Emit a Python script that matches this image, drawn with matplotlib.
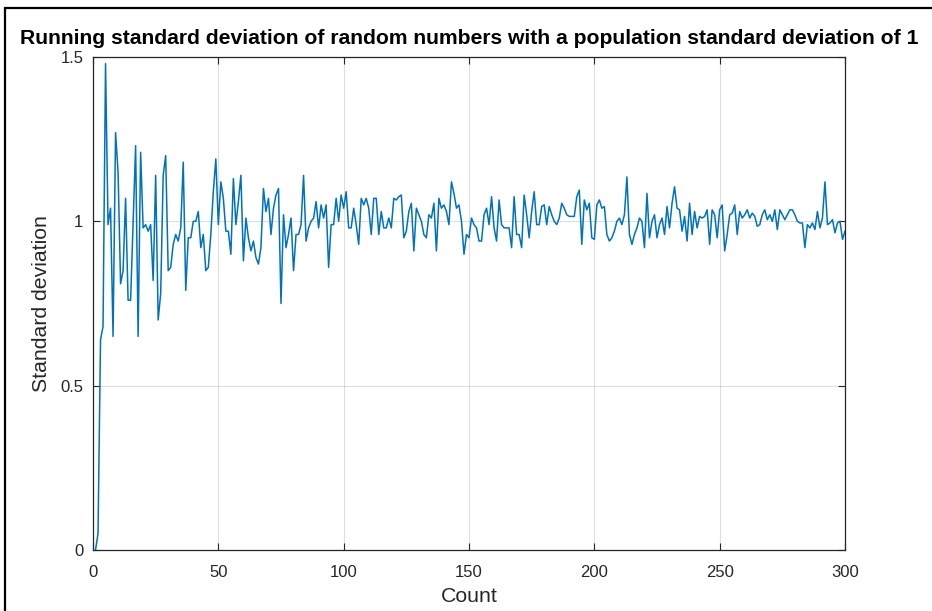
import numpy as np
import matplotlib
matplotlib.use("Agg")
import matplotlib.pyplot as plt
from matplotlib.patches import Rectangle

# running std values, counts 1..300
running_std = [
    0.00, 0.05, 0.64, 0.68, 1.48, 0.99, 1.04, 0.65, 1.27, 1.15,
    0.81, 0.85, 1.07, 0.76, 0.76, 1.00, 1.23, 0.65, 1.21, 0.98,
    0.99, 0.97, 0.99, 0.82, 1.14, 0.70, 0.78, 1.14, 1.20, 0.85,
    0.86, 0.93, 0.96, 0.94, 0.98, 1.18, 0.79, 0.95, 0.95, 1.00,
    1.00, 1.03, 0.92, 0.96, 0.85, 0.86, 0.96, 1.09, 1.19, 0.99,
    1.12, 1.07, 0.97, 0.97, 0.90, 1.13, 0.99, 1.06, 1.14, 0.88,
    1.01, 0.95, 0.91, 0.94, 0.89, 0.87, 0.92, 1.10, 1.03, 1.07,
    0.96, 1.04, 1.08, 1.10, 0.75, 1.02, 0.92, 0.96, 1.01, 0.85,
    0.96, 0.96, 0.99, 1.14, 0.94, 0.98, 1.00, 1.01, 1.06, 0.98,
    1.05, 1.01, 1.05, 0.86, 0.99, 0.99, 1.07, 1.00, 1.08, 1.04,
    1.09, 0.98, 0.98, 1.04, 0.99, 0.93, 1.07, 1.05, 1.07, 1.04,
    0.96, 1.07, 1.07, 0.96, 1.03, 0.98, 0.98, 1.01, 0.98, 1.07,
    1.065, 1.075, 1.08, 0.95, 0.97, 1.03, 1.055, 0.91, 1.04, 1.02,
    1.00, 0.96, 0.95, 1.02, 1.01, 1.055, 0.91, 1.07, 1.04, 1.05,
    1.03, 0.99, 1.12, 1.085, 1.04, 1.05, 1.00, 0.90, 0.96, 0.95,
    1.01, 0.99, 0.98, 0.94, 0.94, 1.02, 1.04, 0.99, 1.075, 0.98,
    0.94, 1.065, 0.99, 0.98, 0.98, 0.98, 0.92, 1.075, 0.96, 0.96,
    0.92, 1.08, 1.02, 0.95, 1.03, 1.09, 0.99, 0.99, 1.045, 1.05,
    0.99, 1.045, 1.02, 1.00, 0.99, 1.01, 1.055, 1.04, 1.02, 1.015,
    1.015, 1.015, 1.075, 1.095, 0.93, 1.065, 1.035, 1.055, 0.95, 0.945,
    1.05, 1.065, 1.04, 1.045, 0.96, 0.94, 0.95, 0.97, 1.00, 1.01,
    0.99, 1.02, 1.135, 0.96, 0.93, 0.96, 0.98, 1.01, 1.00, 0.92,
    1.085, 0.95, 1.00, 1.02, 0.95, 0.99, 1.01, 0.96, 1.045, 0.98,
    1.055, 1.105, 1.04, 1.035, 0.97, 1.015, 0.94, 1.055, 0.96, 1.03,
    0.98, 1.015, 1.01, 1.015, 1.035, 0.93, 1.035, 1.02, 0.95, 1.035,
    1.05, 0.91, 0.96, 1.02, 1.025, 1.05, 0.96, 1.03, 1.01, 1.02,
    1.035, 1.01, 1.025, 1.015, 0.985, 0.99, 1.02, 1.035, 1.005, 1.02,
    1.00, 1.035, 0.975, 1.035, 1.02, 1.005, 1.02, 1.035, 1.035, 1.02,
    1.00, 0.995, 0.995, 0.92, 0.99, 0.98, 0.995, 0.975, 1.03, 0.98,
    1.01, 1.12, 0.99, 0.995, 1.005, 0.965, 0.995, 1.00, 0.945, 0.97,
]
counts = np.arange(1, len(running_std) + 1)

x_ticks = [0, 50, 100, 150, 200, 250, 300]
y_ticks = [0, 0.5, 1, 1.5]
y_ticklabels = ["0", "0.5", "1", "1.5"]

plt.rcParams['font.family'] = ['Liberation Sans', 'DejaVu Sans']
axis_col = '#262626'

fig = plt.figure(figsize=(9.32, 6.11), dpi=100)
ax = fig.add_axes([93/932, 1 - 550/611, (845 - 93)/932, (550 - 57)/611])

ax.plot(counts, running_std, color='#0072BD', lw=1.1)

ax.set_xlim(0, 300)
ax.set_ylim(0, 1.5)
ax.set_xticks(x_ticks)
ax.set_yticks(y_ticks)
ax.set_yticklabels(y_ticklabels)
ax.grid(True, color='#262626', alpha=0.15, lw=0.8)
ax.set_axisbelow(True)

ax.tick_params(direction='in', length=5, width=0.8, colors=axis_col,
               labelsize=12, top=True, right=True)
ax.tick_params(axis='x', pad=11)
ax.tick_params(axis='y', pad=7)
for s in ax.spines.values():
    s.set_color(axis_col)
    s.set_linewidth(0.9)

ax.set_xlabel("Count", fontsize=15.3, color=axis_col, labelpad=5)
ax.set_ylabel("Standard deviation", fontsize=15.3, color=axis_col, labelpad=7)
ax.set_title("Running standard deviation of random numbers with a population standard deviation of 1",
             fontsize=15.2, fontweight='bold', color='black', pad=9)

# Rahmen vom Screenshot
fig.patches.append(Rectangle((5/932, -0.1), 1.2, 1 - 8/611 + 0.1,
                             transform=fig.transFigure, fill=False,
                             edgecolor='black', lw=1.6))

fig.savefig("out.png", dpi=100)
